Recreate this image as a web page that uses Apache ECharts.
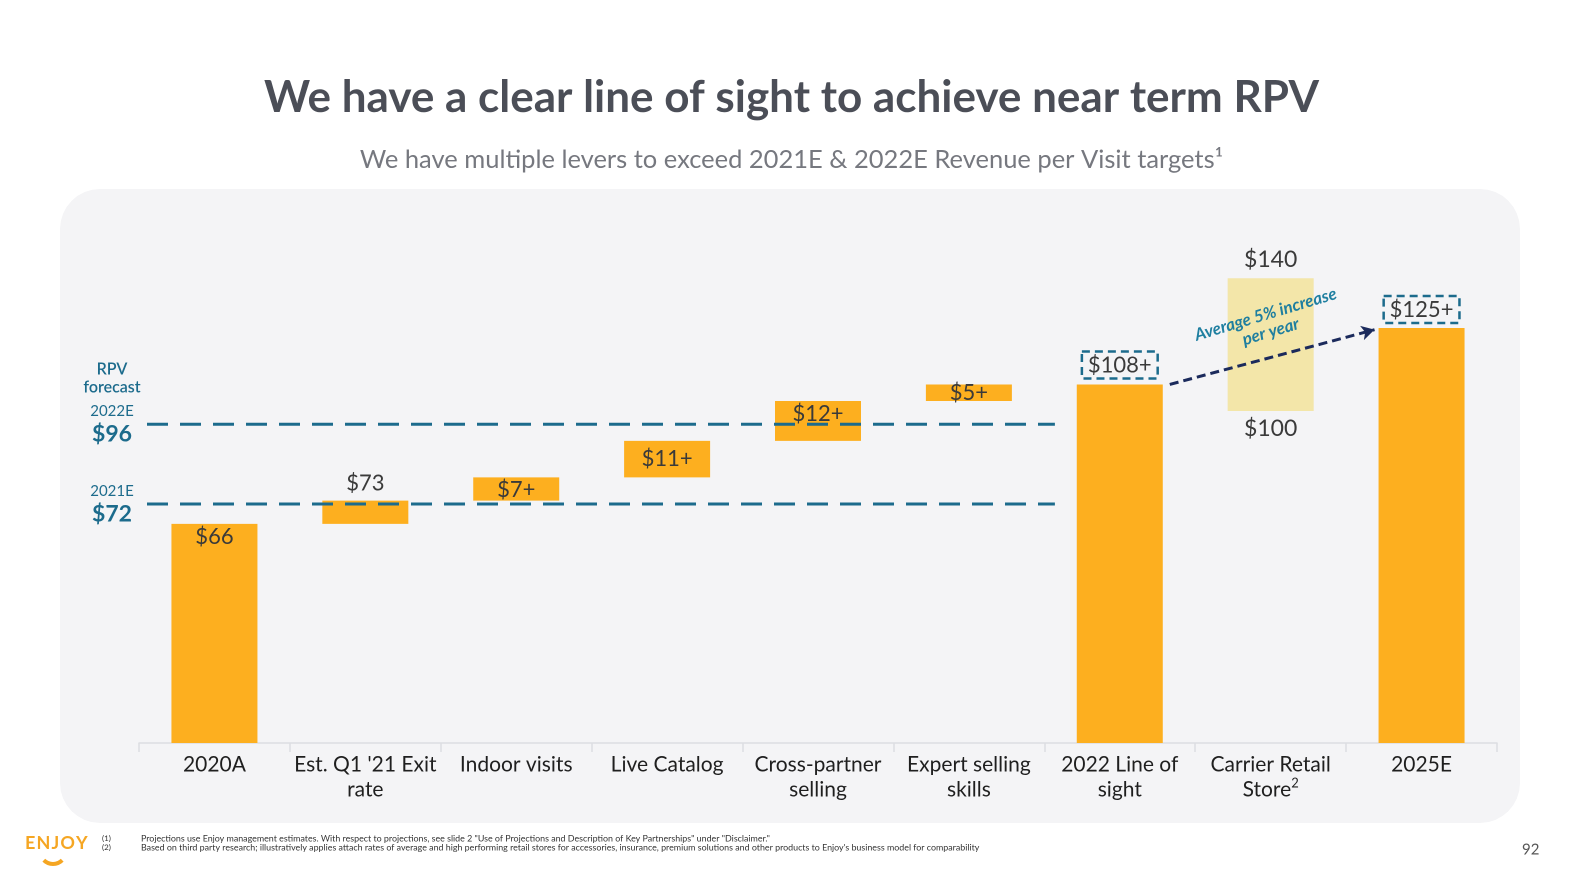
<!DOCTYPE html>
<html><head><meta charset="utf-8">
<script src="https://cdn.jsdelivr.net/npm/echarts@6/dist/echarts.min.js"></script>
<style>
html,body{margin:0;padding:0;background:#fff;overflow:hidden;}
#wrap{position:absolute;left:0;top:0;width:1583px;height:891px;}
#panel{position:absolute;left:60px;top:189px;width:1460px;height:634px;background:#f4f4f6;border-radius:40px;}
#c{position:absolute;left:0;top:0;width:1583px;height:891px;}
</style>
</head><body><div id="wrap"><div id="panel"></div><div id="c"></div></div>
<script>
// ---- data ----
const categories = ['2020A', "Est. Q1 '21 Exit\nrate", 'Indoor visits', 'Live Catalog', 'Cross-partner\nselling', 'Expert selling\nskills', '2022 Line of\nsight', 'Carrier Retail\nStore{sup|2}', '2025E'];
const starts = [0, 66, 73, 80, 91, 103, 0, 100, 0];
const ends = [66, 73, 80, 91, 103, 108, 108, 140, 125];
const barLabels = ['$66', '$73', '$7+', '$11+', '$12+', '$5+', '$108+', '$140', '$125+'];
const rangeLowLabel = '$100';
const forecasts = [{year: '2022E', value: 96}, {year: '2021E', value: 72}];
const arrowFromValue = 108;
const arrowToValue = 124.5;

const FONT = 'Lato';
const ORANGE = '#fdaf1f';
const PALE = '#f3e6a9';
const TEAL = '#1c6b8c';
const TXT = '#3a3a3a';

const labelCfg = [
  {position: 'insideTop', distance: 2},
  {position: 'top', distance: 6},
  {position: 'inside', offset: [0, 1]},
  {position: 'inside'},
  {position: 'insideTop', distance: 2},
  {position: 'inside'},
  {position: 'top', distance: 6, box: true},
  {position: 'top', distance: 7},
  {position: 'top', distance: 5, box: true}
];

const chart = echarts.init(document.getElementById('c'), null, {renderer: 'canvas', width: 1583, height: 891, devicePixelRatio: 2});

const baseData = starts.map((v, i) => {
  const d = {value: v, itemStyle: {color: 'rgba(0,0,0,0)'}};
  if (i === 7) {
    d.label = {show: true, position: 'insideTop', distance: 6, formatter: rangeLowLabel, fontSize: 23, color: TXT, fontFamily: FONT};
  }
  return d;
});
const valData = ends.map((e, i) => {
  const c = labelCfg[i];
  const lab = {show: true, position: c.position, distance: c.distance || 5, formatter: barLabels[i], fontSize: 22, color: TXT, fontFamily: FONT};
  if (i === 7) lab.fontSize = 23;
  if (c.offset) lab.offset = c.offset;
  if (c.box) {
    Object.assign(lab, {borderType: [8, 5], borderColor: TEAL, borderWidth: 2.5, padding: [3, 6, 2, 6]});
  }
  return {value: e - starts[i], itemStyle: {color: i === 7 ? PALE : ORANGE}, label: lab};
});

const option = {
  animation: false,
  backgroundColor: 'transparent',
  title: {
    text: 'We have a clear line of sight to achieve near term RPV',
    subtext: 'We have multiple levers to exceed 2021E & 2022E Revenue per Visit targets¹',
    left: 'center', top: 71, itemGap: 27,
    textStyle: {fontFamily: FONT, fontSize: 44, fontWeight: 'bold', color: '#4b4e57'},
    subtextStyle: {fontFamily: FONT, fontSize: 25.5, color: '#76787f'}
  },
  grid: {left: 139, right: 86, top: 245, bottom: 148},
  xAxis: {
    type: 'category', data: categories,
    axisLine: {lineStyle: {color: '#dcdde1', width: 1.5}},
    axisTick: {show: true, length: 9, lineStyle: {color: '#dcdde1', width: 1.5}},
    axisLabel: {
      interval: 0, margin: 9, fontSize: 21, lineHeight: 25, color: '#1f1f1f', fontFamily: FONT,
      rich: {sup: {fontSize: 13, verticalAlign: 'top', lineHeight: 25, padding: [0, 0, 8, 0], color: '#1f1f1f', fontFamily: FONT}}
    }
  },
  yAxis: {type: 'value', min: 0, max: 150, show: false, splitLine: {show: false}},
  series: [
    {type: 'bar', name: 'base', stack: 'w', barWidth: 86, data: baseData, silent: true},
    {type: 'bar', name: 'value', stack: 'w', barWidth: 86, data: valData}
  ]
};
chart.setOption(option);

// ---- overlays computed from the chart's scales ----
const px = (xi, yv) => chart.convertToPixel({gridIndex: 0}, [xi, yv]);
const graphics = [];
const lineLeft = 147;
const lineRight = px(5, 0)[0] + 86;
forecasts.forEach(f => {
  const y = px(0, f.value)[1];
  graphics.push({type: 'line', z: 100, shape: {x1: lineLeft, y1: y, x2: lineRight, y2: y},
    style: {stroke: TEAL, lineWidth: 3, lineDash: [21, 12]}});
  graphics.push({type: 'text', z: 100, x: 112, y: y - 13, style: {text: f.year, fill: TEAL, font: '400 15px ' + FONT, textAlign: 'center', textVerticalAlign: 'middle'}});
  graphics.push({type: 'text', z: 100, x: 112, y: y + 10, style: {text: '$' + f.value, fill: TEAL, font: 'bold 23px ' + FONT, textAlign: 'center', textVerticalAlign: 'middle'}});
});
const y96 = px(0, forecasts[0].value)[1];
graphics.push({type: 'text', z: 100, x: 112, y: y96 - 55, style: {text: 'RPV', fill: TEAL, font: '600 16px ' + FONT, textAlign: 'center', textVerticalAlign: 'middle'}});
graphics.push({type: 'text', z: 100, x: 112, y: y96 - 37, style: {text: 'forecast', fill: TEAL, font: '600 16px ' + FONT, textAlign: 'center', textVerticalAlign: 'middle'}});

// annotation text
const aStart = px(6, arrowFromValue), aEnd = px(8, arrowToValue);
const x1 = aStart[0] + 43 + 7, x2 = aEnd[0] - 43 - 4;
const ang = Math.atan2(aStart[1] - aEnd[1], x2 - x1) + 0.03;
graphics.push({type: 'text', z: 100, x: (x1 + x2) / 2 - 4, y: (aStart[1] + aEnd[1]) / 2 - 34, rotation: ang,
  style: {text: 'Average 5% increase\nper year', fill: '#1f7fa0', font: 'italic bold 17px ' + FONT, textAlign: 'center', textVerticalAlign: 'middle', lineHeight: 18}});

// footer
graphics.push({type: 'text', left: 25, top: 834, style: {text: 'E\u200AN\u200AJ\u200AO\u200AY', fill: '#f5a623', font: 'bold 18px ' + FONT}});
graphics.push({type: 'arc', shape: {cx: 53, cy: 851, r: 13, startAngle: Math.PI * 0.25, endAngle: Math.PI * 0.75}, style: {stroke: '#f5a623', lineWidth: 4, fill: null}});
graphics.push({type: 'text', left: 102, top: 834, style: {text: '(1)\n(2)', fill: '#333', font: '8px ' + FONT, lineHeight: 9}});
graphics.push({type: 'text', left: 141, top: 834, style: {text: 'Projections use Enjoy management estimates. With respect to projections, see slide 2 "Use of Projections and Description of Key Partnerships" under "Disclaimer."\nBased on third party research; illustratively applies attach rates of average and high performing retail stores for accessories, insurance, premium solutions and other products to Enjoy\'s business model for comparability', fill: '#333', font: '8.9px ' + FONT, lineHeight: 9}});
graphics.push({type: 'text', left: 1522, top: 842, style: {text: '92', fill: '#555', font: '15px ' + FONT}});

chart.setOption({
  graphic: graphics,
  series: [{}, {
    markLine: {
      silent: true, symbol: ['none', 'arrow'], symbolSize: [11, 13],
      label: {show: false},
      lineStyle: {color: '#1b2a5c', width: 3, type: [9, 5]},
      data: [[{x: x1, y: aStart[1]}, {x: x2, y: aEnd[1]}]]
    }
  }]
});
</script>
</body></html>
